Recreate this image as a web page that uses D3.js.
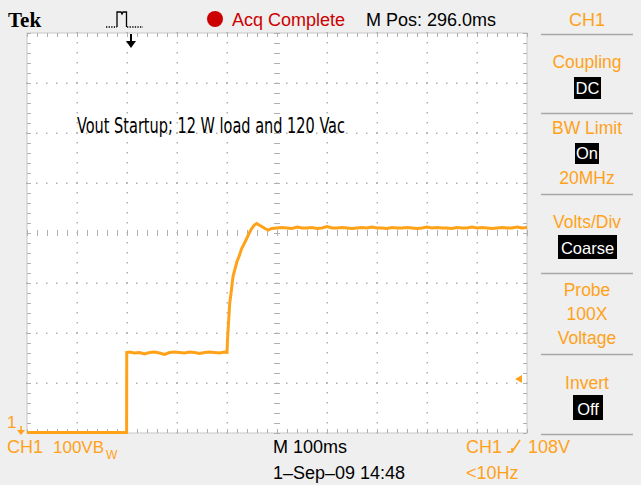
<!DOCTYPE html>
<html><head><meta charset="utf-8">
<script src="https://cdn.jsdelivr.net/npm/d3@7"></script>
<style>
html,body{margin:0;padding:0;background:#efefef;}
svg{display:block;}
text{font-family:"Liberation Sans","DejaVu Sans",sans-serif;}
</style></head>
<body>
<svg id="c" width="641" height="485"></svg>
<script>
// ---- data (time in ms, voltage in V; 100 ms/div, 100 V/div) ----
const baseTimes  = [0, 199];
const baseVolts  = [1, 1];
const stepTimes  = [199.5, 205, 215, 225, 235, 245, 255, 265, 275, 285, 295, 305, 315, 325, 335, 345, 355, 365, 375, 385, 395, 400];
const stepVolts  = [161, 162, 160, 161, 158, 161, 162, 160, 157, 161, 162, 161, 160, 162, 161, 159, 161, 162, 161, 160, 162, 161];
const riseTimes  = [401, 402.6, 405.4, 408, 412, 414.6, 420, 424, 429.4, 434.6, 439.4, 444, 449.4, 454.6, 459.4, 464, 469.4, 476, 482.6, 489.4];
const riseVolts  = [186, 213, 259, 279, 313, 323, 343, 353, 369, 379, 389, 399, 409, 416, 419, 416, 413, 409, 406, 409];
const finalTimes = [500, 510, 520, 530, 540, 550, 560, 570, 580, 590, 600, 610, 620, 630, 640, 650, 660, 670, 680, 690, 700,
                    710, 720, 730, 740, 750, 760, 770, 780, 790, 800, 810, 820, 830, 840, 850, 860, 870, 880, 890, 900,
                    910, 920, 930, 940, 950, 960, 970, 980, 990, 1000];
const finalVolts = [410, 411, 410, 409, 412, 410, 410, 411, 409, 410, 413, 410, 410, 411, 410, 409, 410, 411, 410, 412, 410,
                    410, 409, 411, 410, 410, 411, 410, 409, 410, 412, 410, 411, 410, 410, 409, 411, 410, 410, 412, 410,
                    411, 410, 409, 410, 411, 410, 410, 412, 410, 411];
const triggerLevel = 108;
const title = "Vout Startup; 12 W load and 120 Vac";
const sideLabels = [
  {lines:["Coupling"], box:"DC"},
  {lines:["BW Limit"], box:"On", after:"20MHz"},
  {lines:["Volts/Div"], box:"Coarse"},
  {lines:["Probe","100X","Voltage"]},
  {lines:["Invert"], box:"Off"}
];

const ORANGE = "#ffa21a";
const svg = d3.select("#c");
const x = d3.scaleLinear().domain([0, 1000]).range([27, 527]);
const y = d3.scaleLinear().domain([0, 800]).range([433, 33]);

// background & plot area
svg.append("rect").attr("width",641).attr("height",485).attr("fill","#efefef");
svg.append("rect").attr("x",x(0)).attr("y",y(800)).attr("width",x(1000)-x(0)).attr("height",y(0)-y(800))
  .attr("fill","#fff").attr("stroke","#c8c8c8").attr("stroke-width",1);

const g = svg.append("g");
const GRID = "#b0b0b0";
const majorX = x.ticks(10), majorY = y.ticks(8);
const minorX = x.ticks(50), minorY = y.ticks(40);
// dotted grid lines
majorX.filter(v => v > 0 && v < 1000 && v !== 500).forEach(v => {
  minorY.forEach(w => g.append("rect").attr("x",Math.round(x(v))-0.5).attr("y",Math.round(y(w))-1).attr("width",1.5).attr("height",1.5).attr("fill",GRID));
});
majorY.filter(v => v > 0 && v < 800 && v !== 400).forEach(v => {
  minorX.forEach(w => g.append("rect").attr("x",Math.round(x(w))-1).attr("y",Math.round(y(v))-0.5).attr("width",1.5).attr("height",1.5).attr("fill",GRID));
});
// center cross with ticks
minorY.forEach(w => g.append("line").attr("x1",x(500)-3).attr("x2",x(500)+3).attr("y1",Math.round(y(w))+0.5).attr("y2",Math.round(y(w))+0.5).attr("stroke",GRID));
minorX.forEach(w => g.append("line").attr("y1",y(400)-3).attr("y2",y(400)+3).attr("x1",Math.round(x(w))+0.5).attr("x2",Math.round(x(w))+0.5).attr("stroke",GRID));
// edge ticks
minorX.forEach(w => {
  g.append("line").attr("x1",Math.round(x(w))+0.5).attr("x2",Math.round(x(w))+0.5).attr("y1",y(800)).attr("y2",y(800)+4).attr("stroke",GRID);
  g.append("line").attr("x1",Math.round(x(w))+0.5).attr("x2",Math.round(x(w))+0.5).attr("y1",y(0)).attr("y2",y(0)-4).attr("stroke",GRID);
});
minorY.forEach(w => {
  g.append("line").attr("y1",Math.round(y(w))+0.5).attr("y2",Math.round(y(w))+0.5).attr("x1",x(0)).attr("x2",x(0)+4).attr("stroke",GRID);
  g.append("line").attr("y1",Math.round(y(w))+0.5).attr("y2",Math.round(y(w))+0.5).attr("x1",x(1000)).attr("x2",x(1000)-4).attr("stroke",GRID);
});

// annotation
svg.append("text").attr("x",77).attr("y",133).attr("font-size",21)
  .style("font-family","'DejaVu Sans Condensed','Liberation Sans Narrow',sans-serif")
  .attr("textLength",268).attr("lengthAdjust","spacingAndGlyphs").attr("fill","#000").text(title);

// trace
const pts = [];
[[baseTimes,baseVolts],[stepTimes,stepVolts],[riseTimes,riseVolts],[finalTimes,finalVolts]].forEach(([ts,vs]) => {
  ts.forEach((t,i) => pts.push([t, vs[i]]));
});
pts.splice(2, 0, [199.2, 1]);
const line = d3.line().x(d => x(d[0])).y(d => y(d[1]));
svg.append("path").datum(pts).attr("d",line).attr("fill","none").attr("stroke",ORANGE).attr("stroke-width",3).attr("stroke-linejoin","miter");

// trigger level marker on right
const ty = y(triggerLevel);
svg.append("path").attr("d",`M${x(1000)-12},${ty} L${x(1000)-5},${ty-4} L${x(1000)-5},${ty+4} Z`).attr("fill",ORANGE);

// ground marker
svg.append("text").attr("x",7).attr("y",428).attr("font-size",17).attr("fill",ORANGE).text("1");
svg.append("path").attr("d",`M21,${y(0)-7} L21,${y(0)-1}`).attr("stroke",ORANGE).attr("stroke-width",1.5);
svg.append("path").attr("d",`M17,${y(0)-3} L25,${y(0)-3} L21,${y(0)+2} Z`).attr("fill",ORANGE);

// top bar
svg.append("text").attr("x",8).attr("y",27).attr("font-size",21).attr("font-weight","bold")
  .style("font-family","'Liberation Serif','DejaVu Serif',serif").attr("fill","#000").text("Tek");
// trigger icon
svg.append("path").attr("d","M106,27 L117,27").attr("stroke","#000").attr("stroke-width",1.3).attr("stroke-dasharray","1.3,1.3");
svg.append("path").attr("d","M127,27 L143,27").attr("stroke","#000").attr("stroke-width",1.3).attr("stroke-dasharray","1.3,1.3");
svg.append("path").attr("d","M117,27 L117,12 L121,12 L122,14 L123,12 L126.5,12 L126.5,27")
  .attr("fill","none").attr("stroke","#000").attr("stroke-width",1.3);
svg.append("path").attr("d",`M${x(200)+4},34 L${x(200)+4},42`).attr("stroke","#000").attr("stroke-width",2);
svg.append("path").attr("d",`M${x(200)-1},41 L${x(200)+9},41 L${x(200)+4},48 Z`).attr("fill","#000");
svg.append("circle").attr("cx",215).attr("cy",19).attr("r",8).attr("fill","#cc0000");
svg.append("text").attr("x",232).attr("y",26).attr("font-size",18).attr("fill","#cc0000").text("Acq Complete");
svg.append("text").attr("x",366).attr("y",26).attr("font-size",18).attr("fill","#000").text("M Pos: 296.0ms");
svg.append("text").attr("x",587).attr("y",26).attr("font-size",18).attr("text-anchor","middle").attr("fill",ORANGE).text("CH1");

// right panel
const sepYs = [34, 113, 194, 273, 354, 434];
sepYs.forEach(sy => svg.append("line").attr("x1",541).attr("x2",633).attr("y1",sy+0.5).attr("y2",sy+0.5).attr("stroke","#a8a8a8").attr("stroke-width",1.5));
const cx = 587;
const layout = [
  {lineY:[68], boxY:[77,99], boxX:[574,601], afterY:null},
  {lineY:[134], boxY:[143,164], boxX:[575,599], afterY:184},
  {lineY:[228], boxY:[235,259], boxX:[558,617], afterY:null},
  {lineY:[296,320,344], boxY:null},
  {lineY:[389], boxY:[395,420], boxX:[573,603], afterY:null}
];
sideLabels.forEach((s,i) => {
  const L = layout[i];
  s.lines.forEach((t,j) => svg.append("text").attr("x",cx).attr("y",L.lineY[j]).attr("text-anchor","middle")
    .attr("font-size",17.5).attr("fill",ORANGE).text(t));
  if (s.box) {
    svg.append("rect").attr("x",L.boxX[0]).attr("y",L.boxY[0]).attr("width",L.boxX[1]-L.boxX[0]).attr("height",L.boxY[1]-L.boxY[0]).attr("fill","#000");
    svg.append("text").attr("x",(L.boxX[0]+L.boxX[1])/2).attr("y",L.boxY[1]-5).attr("text-anchor","middle")
      .attr("font-size",16.5).attr("fill","#fff").text(s.box);
  }
  if (s.after) svg.append("text").attr("x",cx).attr("y",L.afterY).attr("text-anchor","middle").attr("font-size",17.5).attr("fill",ORANGE).text(s.after);
});

// bottom bar
svg.append("text").attr("x",7).attr("y",453).attr("font-size",18).attr("fill",ORANGE).text("CH1");
svg.append("text").attr("x",53).attr("y",453).attr("font-size",17).attr("fill",ORANGE).text("100VB");
svg.append("text").attr("x",106).attr("y",459).attr("font-size",12).attr("fill",ORANGE).text("W");
svg.append("text").attr("x",273).attr("y",453).attr("font-size",18).attr("fill","#000").text("M 100ms");
svg.append("text").attr("x",273).attr("y",479).attr("font-size",18).attr("fill","#000").text("1\u2013Sep\u201309 14:48");
svg.append("text").attr("x",466).attr("y",453).attr("font-size",18).attr("fill",ORANGE).text("CH1");
svg.append("path").attr("d","M507,452 L512,452 L512,448 M512,452 L520,440").attr("fill","none").attr("stroke",ORANGE).attr("stroke-width",1.6);
svg.append("text").attr("x",528).attr("y",453).attr("font-size",18).attr("fill",ORANGE).text("108V");
svg.append("text").attr("x",466).attr("y",479).attr("font-size",18).attr("fill",ORANGE).text("<10Hz");
</script>
</body></html>
